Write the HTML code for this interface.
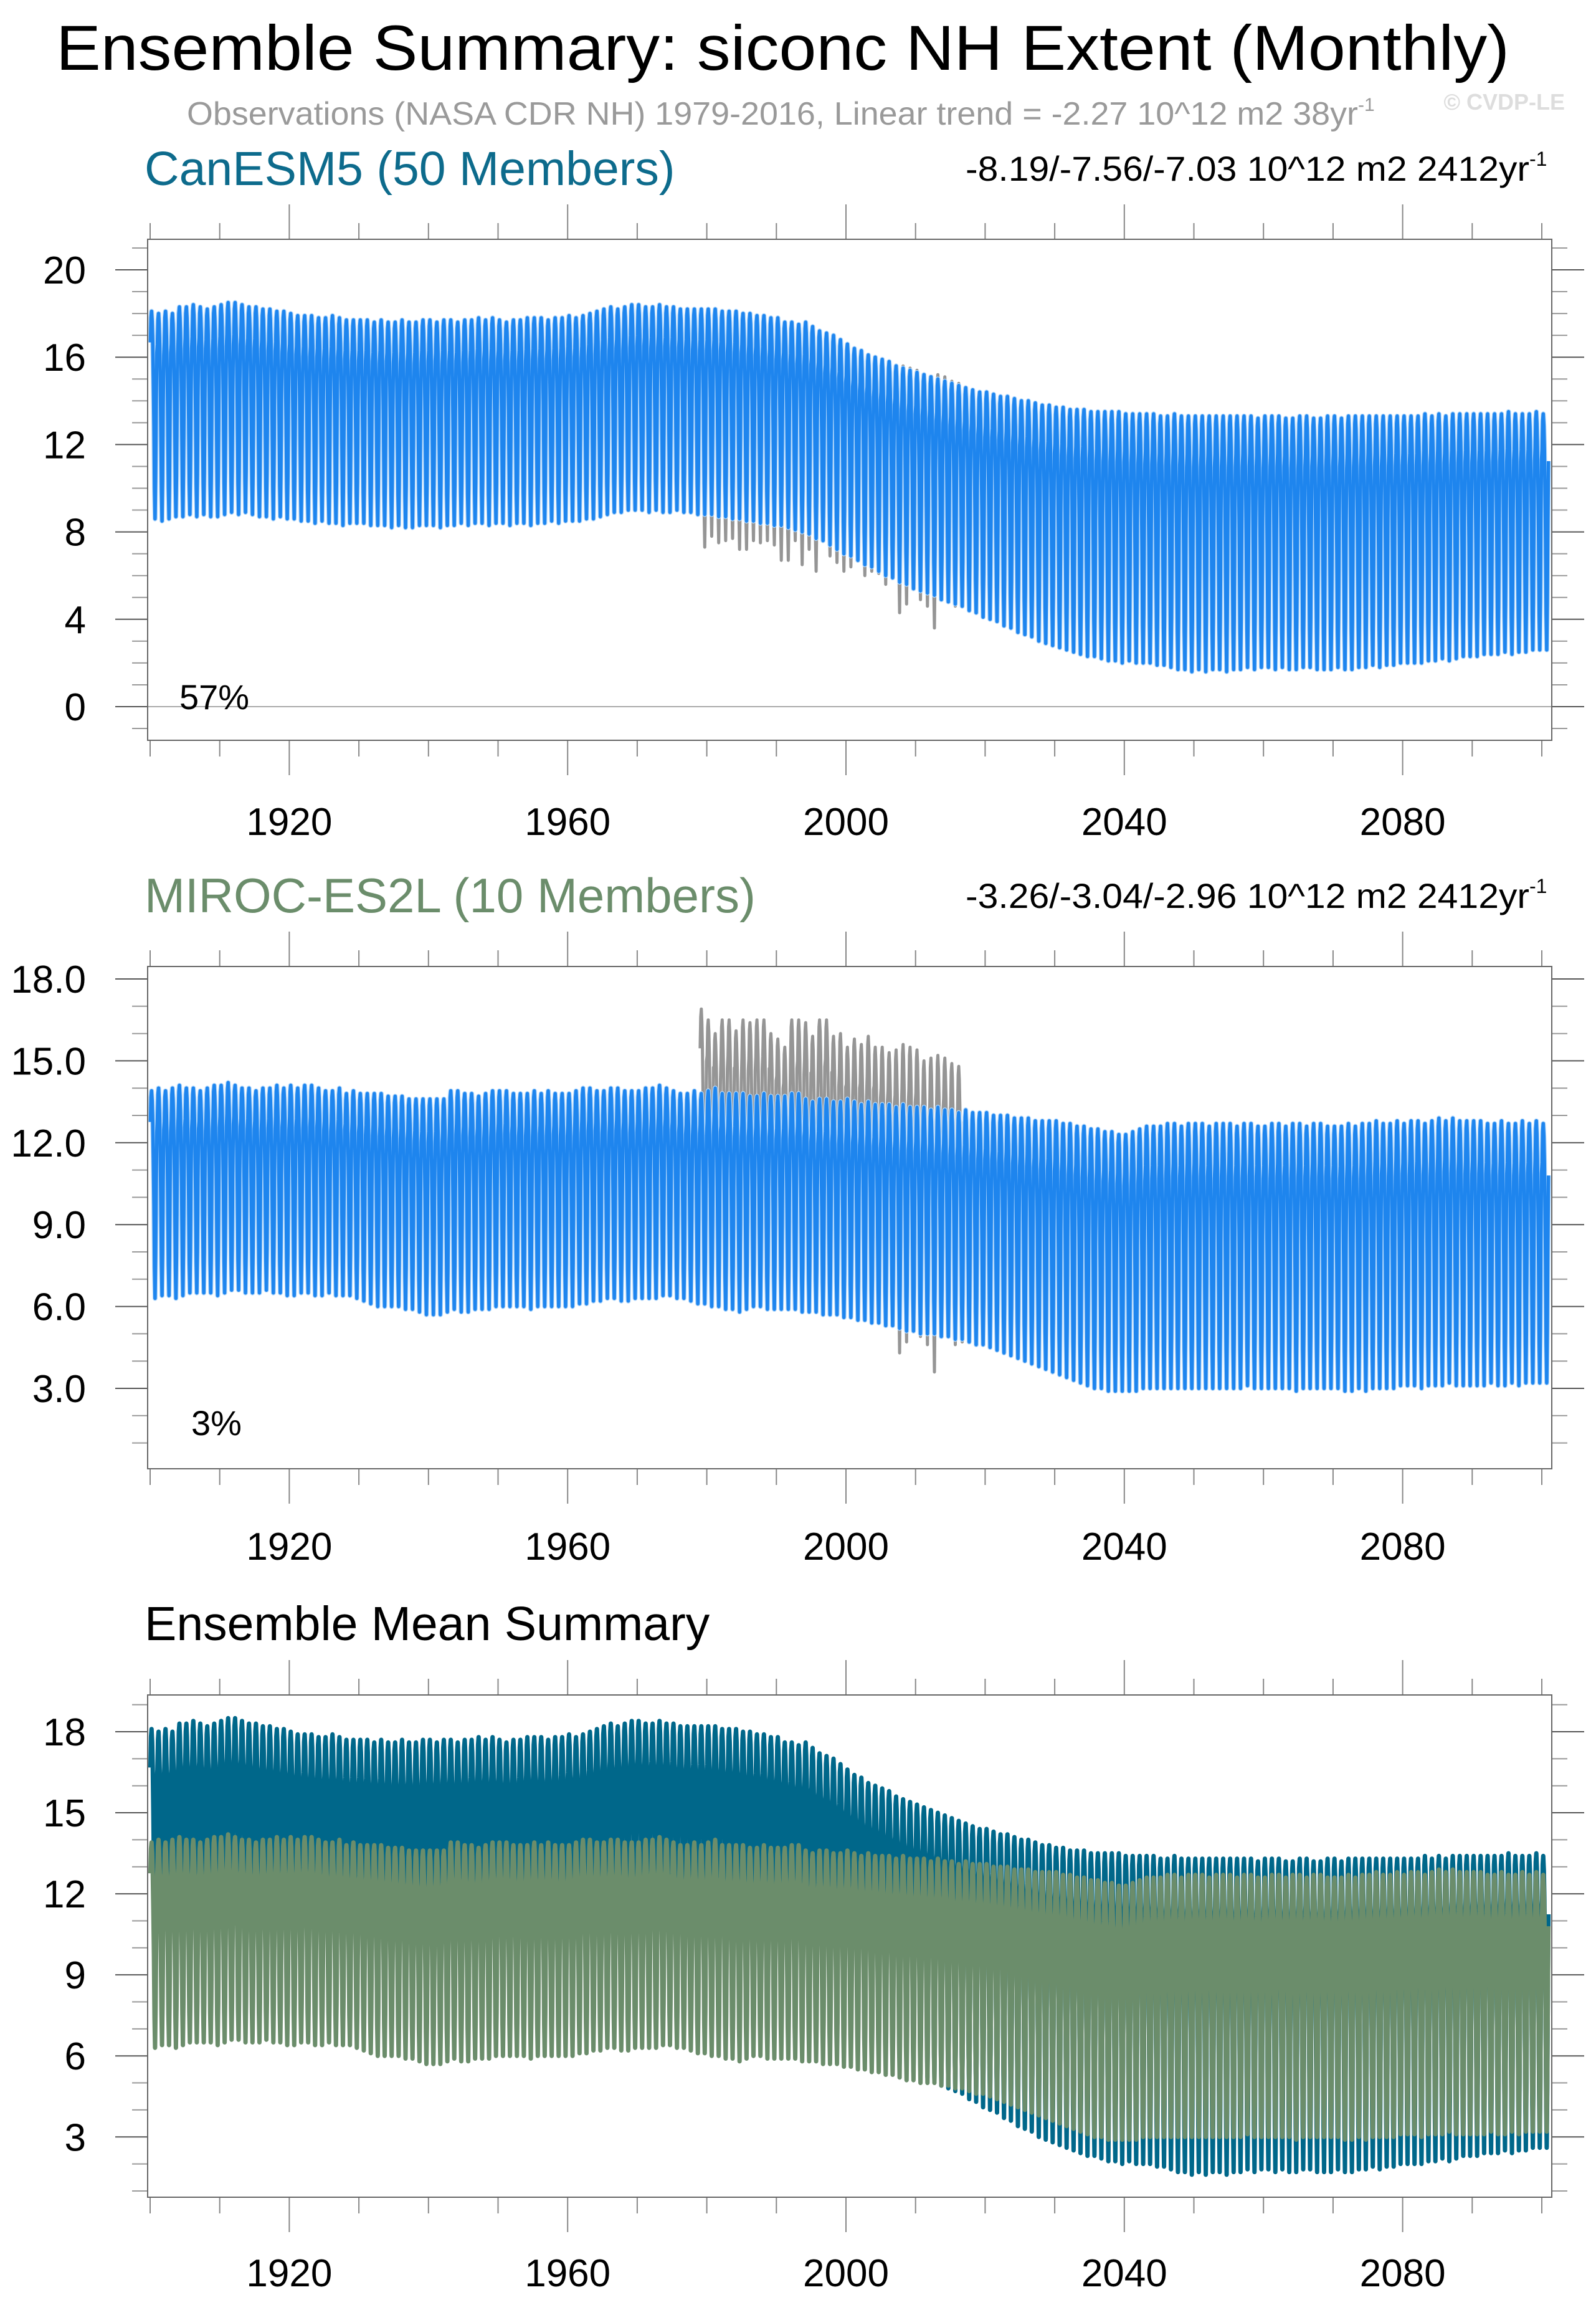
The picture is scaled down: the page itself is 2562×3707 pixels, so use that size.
<!DOCTYPE html>
<html><head><meta charset="utf-8"><title>Ensemble Summary</title>
<style>html,body{margin:0;padding:0;background:#fff}svg{display:block}text{font-family:"Liberation Sans",sans-serif}</style>
</head><body>
<svg id="chart" xmlns="http://www.w3.org/2000/svg" width="2562" height="3707" viewBox="0 0 2562 3707">
<rect width="2562" height="3707" fill="#fff"/>
<text x="90" y="112" font-size="102" textLength="2333" lengthAdjust="spacingAndGlyphs">Ensemble Summary: siconc NH Extent (Monthly)</text>
<text x="300" y="200" font-size="52" fill="#9a9a9a"><tspan textLength="1880" lengthAdjust="spacingAndGlyphs">Observations (NASA CDR NH) 1979-2016, Linear trend = -2.27 10^12 m2 38yr</tspan><tspan font-size="30" dy="-22">-1</tspan></text>
<text x="2512" y="176" font-size="36" font-weight="bold" fill="#dddddd" text-anchor="end">© CVDP-LE</text>
<text x="232" y="297" font-size="77" fill="#0d6b8c">CanESM5 (50 Members)</text>
<text x="1550" y="290" font-size="56"><tspan textLength="905" lengthAdjust="spacingAndGlyphs">-8.19/-7.56/-7.03 10^12 m2 2412yr</tspan><tspan font-size="32" dy="-24">-1</tspan></text>
<text x="232" y="1464" font-size="78" fill="#6b8d6b">MIROC-ES2L (10 Members)</text>
<text x="1550" y="1457" font-size="56"><tspan textLength="905" lengthAdjust="spacingAndGlyphs">-3.26/-3.04/-2.96 10^12 m2 2412yr</tspan><tspan font-size="32" dy="-24">-1</tspan></text>
<text x="232" y="2632" font-size="77">Ensemble Mean Summary</text>
<g id="plots"></g>
</svg>
<script>
const years = [];
for (let y = 1900; y <= 2100; y++) years.push(y);
const seasonShape = [0.85,0.97,1.0,0.95,0.85,0.68,0.45,0.15,0.0,0.2,0.55,0.8];
const canMax = [18.1,18.0,18.1,18.0,18.3,18.3,18.4,18.3,18.2,18.3,
18.4,18.5,18.5,18.4,18.3,18.3,18.2,18.2,18.1,18.1,
18.0,17.9,17.9,17.9,17.8,17.8,17.9,17.8,17.7,17.7,
17.7,17.7,17.6,17.7,17.6,17.6,17.7,17.6,17.6,17.7,
17.7,17.6,17.7,17.7,17.6,17.7,17.7,17.8,17.7,17.8,
17.7,17.6,17.7,17.7,17.8,17.8,17.8,17.7,17.8,17.8,
17.9,17.8,17.9,18.0,18.1,18.2,18.3,18.2,18.3,18.4,
18.4,18.3,18.3,18.4,18.3,18.3,18.2,18.2,18.2,18.2,
18.2,18.2,18.1,18.1,18.1,18.0,18.0,17.9,17.9,17.8,
17.8,17.6,17.6,17.5,17.6,17.4,17.2,17.1,17.0,16.8,
16.6,16.4,16.3,16.1,16.0,15.9,15.8,15.6,15.5,15.4,
15.3,15.2,15.1,15.0,14.9,14.8,14.7,14.6,14.5,14.4,
14.4,14.3,14.2,14.2,14.1,14.0,14.0,13.9,13.8,13.8,
13.7,13.7,13.6,13.6,13.6,13.5,13.5,13.5,13.5,13.5,
13.4,13.4,13.4,13.4,13.4,13.3,13.3,13.4,13.3,13.3,
13.3,13.3,13.3,13.3,13.3,13.3,13.3,13.3,13.3,13.2,
13.3,13.3,13.3,13.2,13.2,13.3,13.3,13.2,13.2,13.3,
13.3,13.2,13.3,13.3,13.3,13.3,13.3,13.3,13.3,13.3,
13.3,13.3,13.3,13.4,13.3,13.4,13.3,13.4,13.4,13.4,
13.4,13.4,13.4,13.4,13.4,13.5,13.4,13.4,13.4,13.5,
13.4];
const canMin = [8.6,8.5,8.6,8.7,8.7,8.8,8.7,8.8,8.7,8.7,
8.8,8.9,8.8,8.9,8.8,8.7,8.7,8.6,8.7,8.6,
8.6,8.5,8.5,8.4,8.5,8.4,8.4,8.3,8.4,8.4,
8.4,8.3,8.3,8.3,8.2,8.3,8.2,8.2,8.3,8.3,
8.3,8.2,8.3,8.3,8.4,8.3,8.4,8.4,8.3,8.4,
8.4,8.3,8.4,8.4,8.3,8.4,8.4,8.5,8.4,8.5,
8.5,8.5,8.6,8.6,8.7,8.8,8.9,8.9,9.0,9.0,
9.0,8.9,9.0,8.9,8.9,9.0,8.9,8.9,8.8,8.8,
8.8,8.7,8.7,8.6,8.6,8.5,8.5,8.4,8.4,8.3,
8.3,8.2,8.1,8.0,7.9,7.7,7.6,7.4,7.2,7.0,
6.9,6.7,6.5,6.4,6.2,6.0,5.9,5.7,5.6,5.4,
5.3,5.2,5.1,4.9,4.8,4.7,4.6,4.4,4.3,4.1,
4.0,3.9,3.7,3.6,3.4,3.3,3.2,3.0,2.9,2.8,
2.7,2.6,2.5,2.4,2.3,2.3,2.2,2.1,2.1,2.0,
2.1,2.0,2.0,2.0,1.9,1.9,1.8,1.7,1.7,1.6,
1.7,1.6,1.7,1.7,1.6,1.7,1.7,1.8,1.7,1.8,
1.8,1.7,1.8,1.7,1.7,1.8,1.8,1.7,1.7,1.7,
1.8,1.7,1.7,1.8,1.8,1.9,1.8,1.9,1.9,2.0,
2.0,2.0,2.0,2.1,2.1,2.2,2.1,2.2,2.3,2.3,
2.3,2.4,2.4,2.4,2.5,2.4,2.5,2.5,2.6,2.6,
2.6];
const mirMax = [13.9,14.0,13.9,14.0,14.1,14.0,14.0,13.9,14.0,14.1,
14.1,14.2,14.1,14.0,14.0,13.9,14.0,14.0,14.1,14.0,
14.1,14.0,14.1,14.1,14.0,13.9,13.9,14.0,13.8,13.9,
13.8,13.8,13.8,13.8,13.7,13.7,13.7,13.6,13.6,13.6,
13.6,13.6,13.6,13.9,13.9,13.8,13.8,13.7,13.8,13.9,
13.9,13.9,13.8,13.8,13.8,13.9,13.8,13.9,13.8,13.8,
13.8,13.9,14.0,14.0,13.9,13.9,14.0,14.0,13.9,13.9,
13.9,14.0,14.0,14.1,14.0,13.9,13.8,13.8,13.9,13.8,
13.9,14.0,13.8,13.8,13.8,13.8,13.7,13.7,13.8,13.7,
13.7,13.7,13.8,13.8,13.6,13.5,13.6,13.6,13.5,13.5,
13.6,13.5,13.4,13.5,13.4,13.4,13.4,13.3,13.4,13.3,
13.3,13.3,13.2,13.3,13.2,13.2,13.1,13.2,13.1,13.1,
13.1,13.0,13.0,13.0,12.9,12.9,12.9,12.8,12.8,12.8,
12.8,12.7,12.7,12.6,12.6,12.5,12.5,12.4,12.4,12.3,
12.3,12.4,12.5,12.6,12.6,12.6,12.7,12.7,12.6,12.7,
12.7,12.7,12.6,12.7,12.7,12.7,12.6,12.7,12.7,12.6,
12.6,12.7,12.7,12.6,12.7,12.7,12.6,12.7,12.7,12.6,
12.6,12.6,12.7,12.6,12.7,12.7,12.8,12.7,12.7,12.8,
12.7,12.8,12.8,12.7,12.8,12.9,12.8,12.9,12.8,12.8,
12.8,12.8,12.7,12.7,12.8,12.7,12.7,12.8,12.7,12.8,
12.7];
const mirMin = [6.3,6.4,6.4,6.3,6.4,6.5,6.5,6.5,6.5,6.4,
6.5,6.6,6.6,6.5,6.5,6.5,6.6,6.5,6.5,6.4,
6.4,6.5,6.5,6.4,6.4,6.5,6.4,6.4,6.4,6.3,
6.2,6.1,6.0,6.0,6.0,6.0,5.9,5.9,5.8,5.7,
5.7,5.7,5.8,5.9,5.8,5.8,5.9,5.9,5.9,6.0,
6.0,6.0,6.0,6.0,5.9,6.0,6.0,6.0,6.0,6.0,
6.0,6.1,6.1,6.2,6.2,6.3,6.3,6.2,6.2,6.3,
6.3,6.3,6.3,6.4,6.4,6.3,6.3,6.2,6.1,6.1,
6.0,6.0,5.9,5.9,5.8,5.9,6.0,6.0,5.9,5.9,
5.9,5.9,5.9,5.8,5.8,5.8,5.7,5.7,5.7,5.6,
5.6,5.5,5.5,5.4,5.4,5.3,5.3,5.2,5.1,5.1,
5.0,5.0,5.0,4.9,4.9,4.8,4.8,4.7,4.6,4.6,
4.5,4.4,4.3,4.2,4.1,4.0,3.9,3.8,3.7,3.6,
3.5,3.4,3.3,3.2,3.1,3.0,3.0,2.9,2.9,2.9,
2.9,2.9,3.0,3.0,3.0,3.0,3.0,3.0,3.0,3.0,
3.0,3.0,3.0,3.0,3.0,3.0,3.0,3.1,3.0,3.0,
3.0,3.0,3.0,3.0,2.9,3.0,3.0,3.0,3.0,3.0,
3.0,2.9,2.9,3.0,2.9,3.0,3.0,3.0,3.0,3.1,
3.1,3.1,3.0,3.1,3.1,3.1,3.2,3.1,3.1,3.1,
3.1,3.1,3.2,3.1,3.1,3.2,3.1,3.2,3.2,3.2,
3.2];
const obsYears = [];
for (let y = 1979; y <= 2016; y++) obsYears.push(y);
const obsMax = [16.9,16.5,16.0,16.5,16.5,16.1,16.5,16.4,16.5,16.5,16.0,15.8,15.5,16.5,16.5,16.4,15.9,16.5,16.5,15.9,16.0,15.5,15.8,15.6,15.9,15.5,15.5,15.3,15.4,15.6,15.5,15.4,15.0,15.1,15.2,15.1,14.9,14.8];
const obsMin = [7.3,7.8,7.5,7.6,7.7,7.2,7.2,7.6,7.5,7.6,7.4,6.7,6.7,7.6,6.5,7.2,6.2,7.9,6.9,6.6,6.2,6.4,6.8,6.0,6.2,6.1,5.6,6.0,4.3,4.7,5.4,4.9,4.6,3.6,5.3,5.3,4.6,4.7];

const NS = "http://www.w3.org/2000/svg";
const root = document.getElementById("plots");
const X0 = 241, PX_PER_YEAR = 11.17;
const xScale = t => X0 + (t - 1900) * PX_PER_YEAR;
const BOX_L = 237, BOX_R = 2491;

function mk(tag, attrs, parent) {
  const e = document.createElementNS(NS, tag);
  for (const k in attrs) e.setAttribute(k, attrs[k]);
  (parent || root).appendChild(e);
  return e;
}
function seriesPath(yrs, mx, mn, yScale) {
  let d = "";
  yrs.forEach((yr, i) => {
    for (let m = 0; m < 12; m++) {
      const v = mn[i] + seasonShape[m] * (mx[i] - mn[i]);
      const px = xScale(yr + (m + 0.5) / 12), py = yScale(v);
      d += (d ? "L" : "M") + px.toFixed(1) + " " + py.toFixed(1);
    }
  });
  return d;
}

const panels = [
  {key:"canesm5", top:384, bottom:1188, y0:1134, k:35.05, vref:0, yTicks:[0,4,8,12,16,20], tickFmt:v=>String(v), minorMin:-1, minorMax:21, labelY:1340},
  {key:"miroc", top:1551, bottom:2357, y0:1571, k:43.8, vref:18, yTicks:[3,6,9,12,15,18], tickFmt:v=>v.toFixed(1), minorMin:1, minorMax:18, labelY:2503},
  {key:"ensemble-mean", top:2720, bottom:3526, y0:2779, k:43.35, vref:18, yTicks:[3,6,9,12,15,18], tickFmt:v=>String(v), minorMin:1, minorMax:19, labelY:3669}
];
const xMajor = [1920,1960,2000,2040,2080];

panels.forEach((p, idx) => {
  const g = mk("g", {});
  
  
  const yScale = v => p.y0 + (p.vref - v) * p.k;
  for (let yr = 1900; yr <= 2100; yr += 10) {
    const major = (yr - 1920) % 40 === 0;
    const len = major ? 56 : 26;
    const x = xScale(yr);
    const t1 = mk("line", {x1:x, x2:x, y1:p.top, y2:p.top - len, stroke:"#888", "stroke-width":2}, g);
    
    
    const t2 = mk("line", {x1:x, x2:x, y1:p.bottom, y2:p.bottom + len, stroke:"#888", "stroke-width":2}, g);
    
    
  }
  for (let v = p.minorMin; v <= p.minorMax; v++) {
    const y = yScale(v);
    if (y < p.top - 1 || y > p.bottom + 1) continue;
    const major = p.yTicks.indexOf(v) >= 0;
    const len = major ? 52 : 25;
    const a = mk("line", {x1:BOX_L - len, x2:BOX_L, y1:y, y2:y, stroke: major ? "#555" : "#999", "stroke-width":2}, g);
    
    
    const b = mk("line", {x1:BOX_R, x2:BOX_R + len, y1:y, y2:y, stroke: major ? "#555" : "#999", "stroke-width":2}, g);
    
    
  }
  p.yTicks.forEach(v => {
    const t = mk("text", {x:138, y:yScale(v) + 22, "font-size":62, "text-anchor":"end"}, g);
    t.textContent = p.tickFmt(v);
    
    
  });
  xMajor.forEach(yr => {
    const t = mk("text", {x:xScale(yr), y:p.labelY, "font-size":62, "text-anchor":"middle"}, g);
    t.textContent = String(yr);
    
    
  });
  const clipId = "clip" + idx;
  const cp = mk("clipPath", {id:clipId}, g);
  mk("rect", {x:BOX_L, y:p.top, width:BOX_R - BOX_L, height:p.bottom - p.top}, cp);
  const data = mk("g", {"clip-path":"url(#" + clipId + ")"}, g);
  if (idx === 0) {
    const z = mk("line", {x1:BOX_L, x2:BOX_R, y1:yScale(0), y2:yScale(0), stroke:"#aaa", "stroke-width":2}, data);
    
    
  }
  if (idx < 2) {
    const mx = idx === 0 ? canMax : mirMax, mn = idx === 0 ? canMin : mirMin;
    const obs = mk("path", {d:seriesPath(obsYears, obsMax, obsMin, yScale), fill:"none", stroke:"#959595", "stroke-width":5, "stroke-linejoin":"round"}, data);
    
    
    const spread = mk("path", {d:seriesPath(years, mx, mn, yScale), fill:"none", stroke:"#b5d9fb", "stroke-width":8, "stroke-linejoin":"round"}, data);
    
    
    const line = mk("path", {d:seriesPath(years, mx, mn, yScale), fill:"none", stroke:"#1e85ee", "stroke-width":5.5, "stroke-linejoin":"round"}, data);
    
    
    const pct = mk("text", {x: idx === 0 ? 288 : 307, y: idx === 0 ? 1138 : 2303, "font-size":56}, g);
    pct.textContent = idx === 0 ? "57%" : "3%";
    
    
  } else {
    const c = mk("path", {d:seriesPath(years, canMax, canMin, yScale), fill:"none", stroke:"#00678a", "stroke-width":7, "stroke-linejoin":"round"}, data);
    
    
    const m = mk("path", {d:seriesPath(years, mirMax, mirMin, yScale), fill:"none", stroke:"#6b8d6b", "stroke-width":7, "stroke-linejoin":"round"}, data);
    
    
  }
  const box = mk("rect", {x:BOX_L, y:p.top, width:BOX_R - BOX_L, height:p.bottom - p.top, fill:"none", stroke:"#666", "stroke-width":2}, g);
  
  
});
</script>
</body></html>
